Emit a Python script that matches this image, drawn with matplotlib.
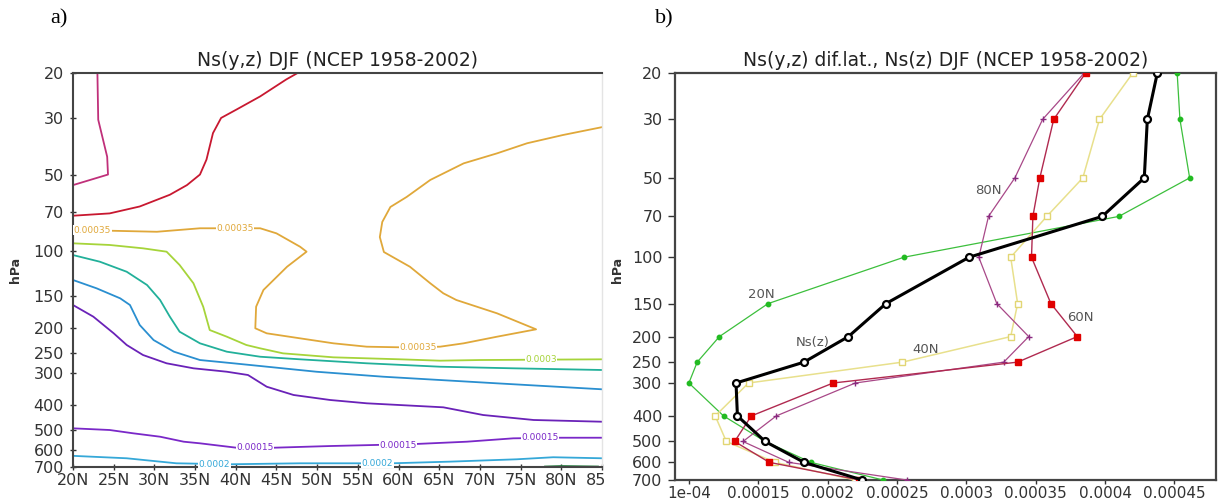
import matplotlib
matplotlib.use('Agg')
import matplotlib.pyplot as plt
from matplotlib.ticker import FixedLocator, FixedFormatter, NullLocator
from matplotlib.patches import Rectangle

# ---------------- Panel a : contour lines of Ns(y,z), lat (deg N) vs pressure (hPa)
lat_ticks = [20, 25, 30, 35, 40, 45, 50, 55, 60, 65, 70, 75, 80, 85]
lat_tick_labels = ['20N', '25N', '30N', '35N', '40N', '45N', '50N', '55N', '60N',
                   '65N', '70N', '75N', '80N', '85N']
p_ticks = [20, 30, 50, 70, 100, 150, 200, 250, 300, 400, 500, 600, 700]
p_tick_labels = ['20', '30', '50', '70', '100', '150', '200', '250', '300', '400',
                 '500', '600', '700']

c045_lat = [23.0, 23.1, 24.2, 24.3, 20.0]
c045_p = [20, 30.5, 42.6, 50, 55]

c040_lat = [20.0, 24.5, 28.2, 31.9, 34.0, 35.6, 36.4, 37.2, 38.2, 40.1, 43.0, 46.2, 47.6]
c040_p = [72.5, 71, 66.7, 60, 55, 50, 43.7, 34.4, 30, 27.8, 24.7, 21.2, 20]

c035_lat = [20.0, 24.5, 30.3, 35.6, 43.0, 45.0, 47.9, 48.7, 46.3, 43.4, 42.5, 42.4, 43.8,
            47.9, 52.0, 56.1, 60.2, 65.1, 68.0, 72.1, 76.9, 72.1, 67.1, 65.5, 63.9, 61.4,
            58.2, 57.7, 58.0, 59.0, 61.0, 63.9, 68.0, 72.1, 75.8, 80.2, 85.0]
c035_p = [82.5, 83.0, 83.8, 81.2, 81.2, 85.0, 95.9, 100.3, 114.9, 141.7, 164.8, 200.2, 209.5,
          219.2, 229.3, 236.4, 237.7, 236.4, 229.3, 216.0, 202.1, 174.9, 155.1, 146.0, 133.4,
          114.9, 100.6, 87.9, 76.7, 67.0, 61.2, 52.5, 45.2, 41.3, 37.7, 35.0, 32.6]

c030_lat = [20.0, 24.5, 28.6, 31.5, 33.1, 34.8, 36.0, 36.8, 38.9, 41.3, 43.0, 45.8, 52.0,
            60.2, 65.1, 70.0, 85.0]
c030_p = [93.0, 94.4, 97.3, 100.3, 113.1, 133.4, 164.8, 203.4, 216.0, 232.8, 239.9, 251.0,
          260.2, 264.9, 268.2, 266.6, 264.9]

c025_lat = [20.0, 23.3, 26.6, 29.1, 30.7, 31.9, 33.1, 35.6, 38.9, 43.0, 47.9, 56.1, 65.1,
            74.1, 85.0]
c025_p = [103.4, 109.8, 120.2, 135.5, 155.1, 180.3, 206.5, 229.3, 247.3, 258.8, 264.9, 274.6,
          283.2, 287.3, 291.7]

c025b_lat = [78.0, 80.0, 84.5]
c025b_p = [697, 694, 697]

c020_lat = [20.0, 22.9, 25.8, 27.0, 28.2, 29.9, 32.4, 35.6, 39.7, 43.0, 49.9, 58.1, 65.1,
            72.1, 85.0]
c020_p = [129.5, 139.6, 152.8, 162.3, 194.4, 222.6, 247.3, 266.6, 274.6, 281.4, 296.3, 309.9,
          319.3, 329.0, 347.2]

c020b_lat = [20.0, 26.6, 32.7, 39.3, 47.9, 59.2, 66.3, 74.5, 79.0, 85.0]
c020b_p = [633, 647, 677, 683, 677, 677, 667, 653, 641, 647]

c015_lat = [20.0, 22.5, 25.0, 26.6, 28.6, 31.5, 34.8, 38.9, 41.5, 43.8, 47.1, 51.6, 56.1,
            65.5, 70.4, 76.6, 85.0]
c015_p = [162.3, 180.3, 209.5, 232.8, 254.8, 274.6, 287.3, 296.3, 305.2, 339.2, 365.5, 382.4,
          394.0, 408.5, 437.9, 458.0, 465.2]

c015b_lat = [20.0, 24.5, 27.4, 30.7, 33.6, 35.6, 40.1, 44.6, 51.6, 62.0, 68.4, 74.1, 79.6, 85.0]
c015b_p = [493.8, 501.3, 516.5, 532.6, 557.1, 565.3, 588.3, 588.3, 579.3, 569.0, 557.1, 540.4,
           537.5, 537.5]

contour_lines = [
    (c045_lat, c045_p, '#c0307a'),
    (c040_lat, c040_p, '#c81830'),
    (c035_lat, c035_p, '#e0a83a'),
    (c030_lat, c030_p, '#a6d43a'),
    (c025_lat, c025_p, '#22b09a'),
    (c025b_lat, c025b_p, '#1f7a3a'),
    (c020_lat, c020_p, '#2a8fd0'),
    (c020b_lat, c020b_p, '#35a8d8'),
    (c015_lat, c015_p, '#6a22b8'),
    (c015b_lat, c015b_p, '#7a28c8'),
]

contour_labels = [
    ('0.00035', 22.4, 82.8, '#e0a83a'),
    ('0.00035', 39.9, 81.2, '#e0a83a'),
    ('0.00035', 62.4, 237.5, '#e0a83a'),
    ('0.0003', 77.5, 265.5, '#a6d43a'),
    ('0.00015', 42.4, 588.3, '#7a28c8'),
    ('0.00015', 59.9, 574.0, '#7a28c8'),
    ('0.00015', 77.4, 538.5, '#7a28c8'),
    ('0.0002', 37.4, 682.0, '#35a8d8'),
    ('0.0002', 57.4, 677.0, '#35a8d8'),
]

# ---------------- Panel b : vertical profiles
levels = [20, 30, 50, 70, 100, 150, 200, 250, 300, 400, 500, 600, 700]
ns_z = [4.377e-4, 4.305e-4, 4.283e-4, 3.98e-4, 3.02e-4, 2.42e-4, 2.15e-4, 1.83e-4, 1.34e-4,
        1.35e-4, 1.55e-4, 1.83e-4, 2.25e-4]
ns_20n = [4.52e-4, 4.54e-4, 4.61e-4, 4.10e-4, 2.55e-4, 1.57e-4, 1.22e-4, 1.06e-4, 1.0e-4,
          1.25e-4, 1.55e-4, 1.88e-4, 2.40e-4]
ns_40n = [4.20e-4, 3.96e-4, 3.84e-4, 3.58e-4, 3.32e-4, 3.37e-4, 3.32e-4, 2.54e-4, 1.43e-4,
          1.19e-4, 1.27e-4, 1.62e-4, 2.20e-4]
ns_60n = [3.86e-4, 3.63e-4, 3.53e-4, 3.48e-4, 3.47e-4, 3.61e-4, 3.80e-4, 3.37e-4, 2.04e-4,
          1.45e-4, 1.33e-4, 1.58e-4, 2.23e-4]
ns_80n = [3.85e-4, 3.55e-4, 3.35e-4, 3.16e-4, 3.09e-4, 3.22e-4, 3.45e-4, 3.27e-4, 2.20e-4,
          1.63e-4, 1.39e-4, 1.72e-4, 2.57e-4]
ns_ticks = [1e-4, 1.5e-4, 2e-4, 2.5e-4, 3e-4, 3.5e-4, 4e-4, 4.5e-4]
ns_tick_labels = ['1e-04', '0.00015', '0.0002', '0.00025', '0.0003', '0.00035', '0.0004',
                  '0.00045']
profile_labels = [
    ('80N', 3.16e-4, 56.0),
    ('20N', 1.52e-4, 138.0),
    ('Ns(z)', 1.895e-4, 210.0),
    ('40N', 2.71e-4, 223.0),
    ('60N', 3.82e-4, 170.0),
]

W, H = 1218, 503
fig = plt.figure(figsize=(W / 100, H / 100), dpi=100)
plt.rcParams['font.family'] = ['DejaVu Sans']
tick_col = '#333333'

# ---- panel a
axa = fig.add_axes([73 / W, 1 - 467 / H, 529 / W, 394 / H])
for la, pp, col in contour_lines:
    axa.plot(la, pp, color=col, lw=1.3, solid_joinstyle='round')
for txt, la, pp, col in contour_labels:
    axa.text(la, pp, txt, color=col, fontsize=6.5, ha='center', va='center',
             bbox=dict(facecolor='white', edgecolor='none', pad=0.3), zorder=5)
axa.set_yscale('log')
axa.set_ylim(700, 20)
axa.set_xlim(20, 85)
axa.yaxis.set_major_locator(FixedLocator(p_ticks))
axa.yaxis.set_major_formatter(FixedFormatter(p_tick_labels))
axa.yaxis.set_minor_locator(NullLocator())
axa.xaxis.set_major_locator(FixedLocator(lat_ticks))
axa.xaxis.set_major_formatter(FixedFormatter(lat_tick_labels))
axa.tick_params(axis='both', labelsize=11.5, colors=tick_col, width=1)
axa.tick_params(axis='y', direction='inout', length=5, pad=4)
axa.tick_params(axis='x', direction='inout', length=5, pad=2)
for s in ['left', 'top', 'bottom']:
    axa.spines[s].set_linewidth(1.5)
    axa.spines[s].set_color('#444444')
axa.spines['right'].set_color('#e4e4e4')
axa.spines['right'].set_linewidth(1)
axa.set_title('Ns(y,z) DJF (NCEP 1958-2002)', fontsize=13.5, color='#222222', pad=5)
fig.text(15 / W, 1 - 270 / H, 'hPa', rotation=90, ha='center', va='center', fontsize=9,
         fontweight='bold', color='#333333')
fig.text(50 / W, 1 - 19 / H, 'a)', ha='left', va='center', fontsize=16,
         family='Liberation Serif')
# the reference picture is cropped just right of panel a (85N label cut)
fig.patches.append(Rectangle((604 / W, 0), 26 / W, 33 / H, transform=fig.transFigure,
                             facecolor='white', edgecolor='none', zorder=10))

# ---- panel b
axb = fig.add_axes([675 / W, 1 - 480 / H, 541 / W, 407 / H])
axb.plot(ns_20n, levels, color='#3cbf3c', lw=0.9, marker='o', ms=3.2, mfc='#22bb22',
         mec='#22bb22', zorder=3)
axb.plot(ns_40n, levels, color='#e8e08c', lw=1.1, marker='s', ms=4.5, mfc='white',
         mec='#e2d674', mew=1, zorder=3)
axb.plot(ns_80n, levels, color='#a84888', lw=0.9, marker='+', ms=4.5, mec='#8a2a80',
         mew=1, zorder=3)
axb.plot(ns_60n, levels, color='#b02a50', lw=1.0, marker='s', ms=4.5, mfc='#e00000',
         mec='#e00000', zorder=3)
axb.plot(ns_z, levels, color='black', lw=2.2, marker='o', ms=5, mfc='white', mec='black',
         mew=1.6, zorder=4)
for txt, xv, yv in profile_labels:
    axb.text(xv, yv, txt, color='#555555', fontsize=9.5, ha='center', va='center', zorder=6)
axb.set_yscale('log')
axb.set_ylim(700, 20)
axb.set_xlim(0.9e-4, 4.8e-4)
axb.yaxis.set_major_locator(FixedLocator(p_ticks))
axb.yaxis.set_major_formatter(FixedFormatter(p_tick_labels))
axb.yaxis.set_minor_locator(NullLocator())
axb.xaxis.set_major_locator(FixedLocator(ns_ticks))
axb.xaxis.set_major_formatter(FixedFormatter(ns_tick_labels))
axb.tick_params(axis='both', labelsize=11.5, colors=tick_col, width=1, direction='out')
axb.tick_params(axis='y', length=5, pad=4)
axb.tick_params(axis='x', length=3, pad=1, labelsize=11)
for s in axb.spines.values():
    s.set_linewidth(1.6)
    s.set_color('#444444')
axb.set_title('Ns(y,z) dif.lat., Ns(z) DJF (NCEP 1958-2002)', fontsize=13.5,
              color='#222222', pad=5)
fig.text(618 / W, 1 - 270 / H, 'hPa', rotation=90, ha='center', va='center', fontsize=9,
         fontweight='bold', color='#333333')
fig.text(655 / W, 1 - 19 / H, 'b)', ha='left', va='center', fontsize=16,
         family='Liberation Serif')

fig.savefig('out.png', dpi=100)
